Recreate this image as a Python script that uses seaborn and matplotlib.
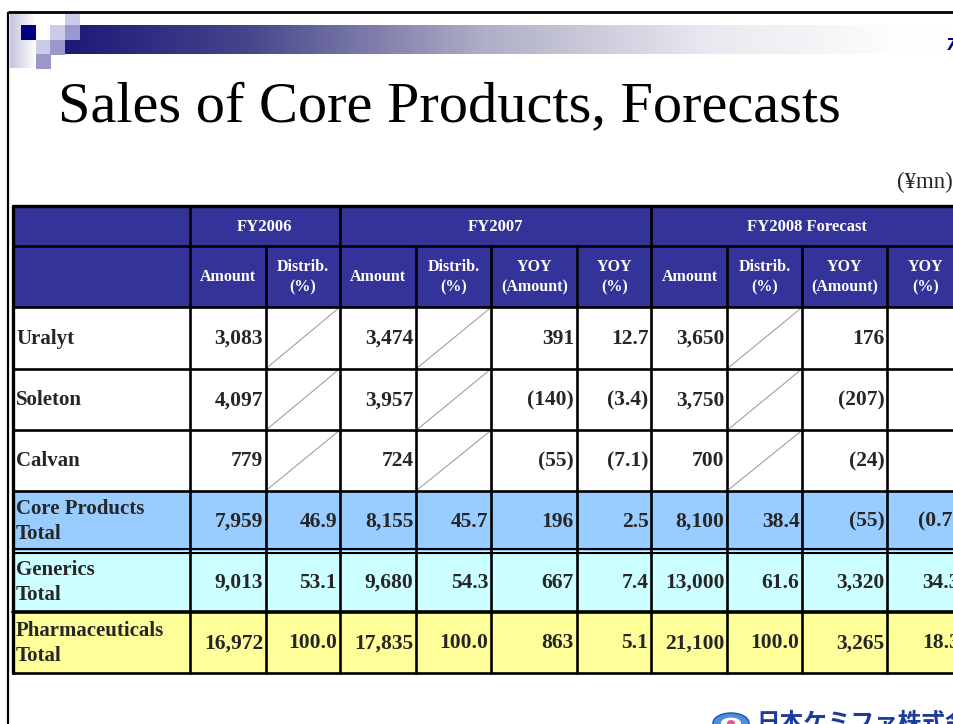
"""Sales of Core Products, Forecasts - table slide."""

import numpy as np
import pandas as pd
import seaborn as sns
import matplotlib.pyplot as plt
from matplotlib.patches import Rectangle, Ellipse
from matplotlib.colors import LinearSegmentedColormap

# Table content
products = ["Uralyt", "Soleton", "Calvan", "Core Products\nTotal",
            "Generics\nTotal", "Pharmaceuticals\nTotal"]
fy2006_amount = [3083, 4097, 779, 7959, 9013, 16972]
fy2006_distrib = [None, None, None, 46.9, 53.1, 100.0]
fy2007_amount = [3474, 3957, 724, 8155, 9680, 17835]
fy2007_distrib = [None, None, None, 45.7, 54.3, 100.0]
fy2007_yoy_amount = [391, -140, -55, 196, 667, 863]
fy2007_yoy_pct = [12.7, -3.4, -7.1, 2.5, 7.4, 5.1]
fy2008_amount = [3650, 3750, 700, 8100, 13000, 21100]
fy2008_distrib = [None, None, None, 38.4, 61.6, 100.0]
fy2008_yoy_amount = [176, -207, -24, -55, 3320, 3265]
fy2008_yoy_pct = [None, None, None, -0.7, 34.3, 18.3]

year_groups = ["FY2006", "FY2007", "FY2008 Forecast"]
sub_headers = ["Amount", "Distrib.\n(%)", "Amount", "Distrib.\n(%)", "YOY\n(Amount)", "YOY\n(%)",
               "Amount", "Distrib.\n(%)", "YOY\n(Amount)", "YOY\n(%)"]
group_spans = [(0, 2), (2, 6), (6, 10)]

title = "Sales of Core Products, Forecasts"
unit_label = "(¥mn)"
company = "日本ケミファ株式会社"

df = pd.DataFrame({
    "a06": fy2006_amount, "d06": fy2006_distrib,
    "a07": fy2007_amount, "d07": fy2007_distrib, "ya07": fy2007_yoy_amount, "yp07": fy2007_yoy_pct,
    "a08": fy2008_amount, "d08": fy2008_distrib, "ya08": fy2008_yoy_amount, "yp08": fy2008_yoy_pct,
}, index=products)
pct_cols = ["d06", "d07", "yp07", "d08", "yp08"]


def fmt(v, pct):
    if v is None or pd.isna(v):
        return ""
    s = f"{abs(v):.1f}" if pct else f"{abs(int(v)):,}"
    return f"({s})" if v < 0 else s


sns.set_theme(style="white")
plt.rcParams["font.family"] = ["Liberation Serif", "DejaVu Serif"]

fig = plt.figure(figsize=(9.54, 7.24), dpi=100)
ax = fig.add_axes([0, 0, 1, 1])
ax.set_xlim(0, 954)
ax.set_ylim(724, 0)
ax.axis("off")

# slide decoration
ax.plot([8, 954], [12, 12], color="black", lw=2.0, solid_capstyle="butt")
ax.plot([8.5, 8.5], [12, 724], color="black", lw=1.6, solid_capstyle="butt")

bar_cmap = LinearSegmentedColormap.from_list(
    "bar", [(0.0, "#1c1a78"), (0.2, "#46448a"), (0.47, "#aeaec6"),
            (0.72, "#e8e8f0"), (0.93, "#fdfdfd"), (1.0, "#ffffff")])
ax.imshow(np.linspace(0, 1, 400)[None, :], cmap=bar_cmap, aspect="auto",
          extent=(65, 954, 54, 25), zorder=1)
side_cmap = LinearSegmentedColormap.from_list("side", ["#c4c4de", "#ffffff"])
ax.imshow(np.linspace(0, 1, 50)[None, :], cmap=side_cmap, aspect="auto",
          extent=(10, 36, 68, 14), zorder=1)
squares = [(65, 14, "#ccccea"), (21, 25, "#000080"), (50, 25, "#ccccea"), (65, 25, "#9999cc"),
           (36, 40, "#ccccea"), (50, 40, "#9999cc"), (36, 54, "#9999cc")]
for x0, y0, c in squares:
    ax.add_patch(Rectangle((x0, y0), 15, 14.5, facecolor=c, edgecolor="none", zorder=2))
ax.text(946, 45, "7", color="#000080", fontsize=11, style="italic", fontweight="bold",
        family=["DejaVu Sans"], va="center", ha="left")

ax.text(58, 121, title, fontsize=42, color="black", va="baseline", ha="left")
ax.text(953, 182, unit_label, fontsize=16.5, va="center", ha="right")

# table geometry
col_edges = [13, 190, 266, 340, 416.5, 491.5, 577, 651.5, 727.5, 802.5, 887.5, 963]
row_edges = [206, 245.5, 307, 368.5, 430, 490.5, 551, 612, 673]
row_fill = ["white", "white", "white", "#99ccff", "#ccffff", "#ffff99"]
header_fill = "#333399"

ax.add_patch(Rectangle((col_edges[0], row_edges[0]), col_edges[-1] - col_edges[0],
                       row_edges[2] - row_edges[0], facecolor=header_fill, edgecolor="none"))
for i, fill in enumerate(row_fill):
    ax.add_patch(Rectangle((col_edges[0], row_edges[i + 2]), col_edges[-1] - col_edges[0],
                           row_edges[i + 3] - row_edges[i + 2], facecolor=fill, edgecolor="none"))

hdr_kw = dict(color="white", fontweight="bold", ha="center", va="center", linespacing=1.35)
for name, (c0, c1) in zip(year_groups, group_spans):
    ax.text((col_edges[c0 + 1] + col_edges[c1 + 1]) / 2, (row_edges[0] + row_edges[1]) / 2 + 1,
            name, fontsize=12, **hdr_kw)
for j, name in enumerate(sub_headers):
    ax.text((col_edges[j + 1] + col_edges[j + 2]) / 2, (row_edges[1] + row_edges[2]) / 2 + 1,
            name, fontsize=11.5, **hdr_kw)

for i, prod in enumerate(df.index):
    yc = (row_edges[i + 2] + row_edges[i + 3]) / 2
    ax.text(16, yc + 1, prod, fontsize=15, fontweight="bold", ha="left", va="center",
            linespacing=1.3)
    for j, col in enumerate(df.columns):
        v = df.loc[prod, col]
        txt = fmt(v, col in pct_cols)
        xr = col_edges[j + 2] - 3
        ax.text(xr, yc + 1, txt, fontsize=15.5, fontweight="bold", ha="right", va="center")
        if col in ("d06", "d07", "d08") and txt == "":
            ax.plot([col_edges[j + 1], col_edges[j + 2]], [row_edges[i + 3], row_edges[i + 2]],
                    color="#a0a0a0", lw=0.8)

# grid lines
lw = 1.9
for k, y in enumerate(row_edges):
    if k == 6:
        ax.plot([13, 963], [y - 2, y - 2], color="black", lw=1.5)
        ax.plot([13, 963], [y + 1.5, y + 1.5], color="black", lw=1.5)
    elif k == 7:
        ax.plot([13, 963], [y, y], color="black", lw=2.6)
    else:
        ax.plot([13, 963], [y, y], color="black", lw=lw if k else 2.4)
for j, x in enumerate(col_edges[:-1]):
    if j == 0 or j in [c0 + 1 for c0, _ in group_spans]:
        ax.plot([x, x], [row_edges[0], row_edges[-1]], color="black", lw=lw if j else 2.4)
    else:
        ax.plot([x, x], [row_edges[1], row_edges[-1]], color="black", lw=lw)

# company logo (cut off at bottom edge)
ax.add_patch(Ellipse((731, 723), 36, 20, facecolor="#4a90d8", edgecolor="#2050b0", lw=1))
ax.add_patch(Ellipse((731, 723), 20, 11, facecolor="white", edgecolor="none"))
ax.add_patch(Ellipse((731, 723), 8, 6, facecolor="#e05a8a", edgecolor="none"))
ax.text(756, 710, company, fontsize=17, color="#1c3c9c", fontweight="bold",
        family=["Noto Sans CJK JP", "DejaVu Sans"], ha="left", va="top")

plt.savefig("out.png", dpi=100)
